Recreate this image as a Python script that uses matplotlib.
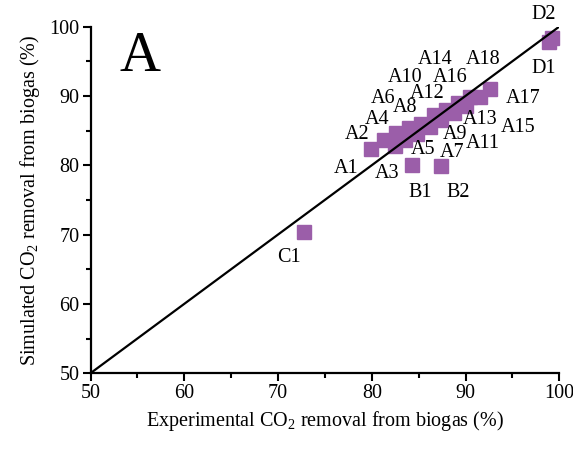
import matplotlib
matplotlib.use("Agg")
import matplotlib.pyplot as plt
from matplotlib.ticker import MultipleLocator

plt.rcParams["font.family"] = ["Liberation Serif", "DejaVu Serif"]
plt.rcParams["mathtext.fontset"] = "custom"
plt.rcParams["mathtext.rm"] = "Liberation Serif"
plt.rcParams["mathtext.it"] = "Liberation Serif:italic"

# experimental vs simulated CO2 removal (%)
names = ["A1", "A2", "A3", "A4", "A5", "A6", "A7", "A8", "A9", "A10",
         "A11", "A12", "A13", "A14", "A15", "A16", "A17", "A18",
         "B1", "B2", "C1", "D1", "D2"]
exp_vals = [79.9, 81.3, 82.5, 82.6, 83.5, 84.0, 84.8, 85.2, 86.2, 86.6,
            87.4, 87.9, 88.8, 89.2, 90.0, 90.5, 91.5, 92.6,
            84.3, 87.4, 72.8, 98.9, 99.2]
sim_vals = [82.4, 83.6, 82.8, 84.6, 83.6, 85.4, 84.5, 86.0, 85.5, 87.3,
            86.5, 88.0, 87.6, 89.0, 88.6, 89.8, 89.8, 91.0,
            80.1, 79.9, 70.4, 97.8, 98.3]

# where each name is written (layout only)
label_pos = {
    "A1": (77.3, 79.6), "A2": (78.4, 84.4), "A3": (81.6, 78.8), "A4": (80.6, 86.6),
    "A5": (85.5, 82.2), "A6": (81.2, 89.6), "A7": (88.6, 81.8), "A8": (83.6, 88.3),
    "A9": (88.9, 84.4), "A10": (83.6, 92.6), "A11": (91.8, 83.2), "A12": (85.9, 90.4),
    "A13": (91.6, 86.6), "A14": (86.8, 95.2), "A15": (95.6, 85.4), "A16": (88.4, 92.6),
    "A17": (96.2, 89.6), "A18": (91.9, 95.2), "B1": (85.2, 76.0), "B2": (89.2, 76.0),
    "C1": (71.2, 66.7), "D1": (98.3, 93.9), "D2": (98.3, 101.8),
}

fig = plt.figure(figsize=(5.73, 4.59), dpi=100)
ax = fig.add_axes([0.158, 0.187, 0.818, 0.755])

ax.plot([50, 100], [50, 100], color="black", lw=1.6, zorder=3)
ax.plot(exp_vals, sim_vals, ls="none", marker="s", ms=10.5, color="#9b5ea9",
        mec="#9b5ea9", zorder=2, clip_on=False)

for n in names:
    x, y = label_pos[n]
    ax.text(x, y, n, fontsize=14.5, ha="center", va="center", clip_on=False)

ax.text(55.3, 95.6, "A", fontsize=41, ha="center", va="center")

ax.set_xlim(50, 100)
ax.set_ylim(50, 100)
ax.xaxis.set_major_locator(MultipleLocator(10))
ax.xaxis.set_minor_locator(MultipleLocator(5))
ax.yaxis.set_major_locator(MultipleLocator(10))
ax.yaxis.set_minor_locator(MultipleLocator(5))
for s in ["top", "right"]:
    ax.spines[s].set_visible(False)
for s in ["left", "bottom"]:
    ax.spines[s].set_linewidth(1.6)
ax.tick_params(which="major", direction="out", length=6, width=1.5, labelsize=14.5, pad=2)
ax.tick_params(which="minor", direction="out", length=3.5, width=1.5)

ax.set_xlabel("Experimental CO$_\\mathrm{2}$ removal from biogas (%)", fontsize=14.5, labelpad=4)
ax.set_ylabel("Simulated CO$_\\mathrm{2}$ removal from biogas (%)", fontsize=14.5, labelpad=5)

fig.savefig("out.png", dpi=100)
